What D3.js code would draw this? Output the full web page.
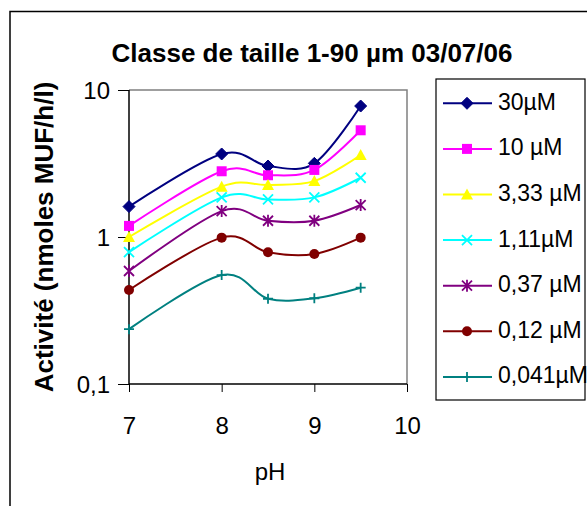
<!DOCTYPE html>
<html>
<head>
<meta charset="utf-8">
<script src="https://cdn.jsdelivr.net/npm/d3@7"></script>
<style>
html,body{margin:0;padding:0;background:#fff;}
svg{display:block;font-family:"Liberation Sans",Arial,sans-serif;}
</style>
</head>
<body>
<svg id="chart" width="587" height="506"></svg>
<script>
const titleText = "Classe de taille 1-90 µm 03/07/06";
const xLabel = "pH";
const yLabel = "Activité (nmoles MUF/h/l)";
const phValues = [7, 8, 8.5, 9, 9.5];
const xTicks = [7, 8, 9, 10];
const yTicks = [0.1, 1, 10];
const yTickLabels = ["0,1", "1", "10"];
const seriesNames = ["30µM", "10 µM", "3,33 µM", "1,11µM", "0,37 µM", "0,12 µM", "0,041µM"];
const s30 = [1.61, 3.67, 3.04, 3.17, 7.78];
const s10 = [1.19, 2.80, 2.63, 2.86, 5.32];
const s333 = [1.00, 2.20, 2.26, 2.40, 3.61];
const s111 = [0.79, 1.86, 1.80, 1.86, 2.53];
const s037 = [0.587, 1.50, 1.29, 1.29, 1.65];
const s012 = [0.436, 0.99, 0.787, 0.766, 0.99];
const s0041 = [0.236, 0.551, 0.380, 0.383, 0.452];
const seriesValues = [s30, s10, s333, s111, s037, s012, s0041];
const colors = ["#000080", "#FF00FF", "#FFFF00", "#00FFFF", "#800080", "#800000", "#008080"];
const markers = ["diamond", "square", "triangle", "x", "asterisk", "circle", "plus"];

const svg = d3.select("#chart");
const x = d3.scaleLinear().domain([7, 10]).range([129, 407]);
const y = d3.scaleLog().domain([0.1, 10]).range([384, 90]);

// outer frame
svg.append("path").attr("d", "M10,506 V11.5 H587").attr("fill", "none").attr("stroke", "#000").attr("stroke-width", 1.5);

// title
svg.append("text").attr("x", 312).attr("y", 62).attr("text-anchor", "middle")
  .attr("font-weight", "bold").attr("font-size", 26).text(titleText);

// plot border (top/right grey)
svg.append("path").attr("d", `M${x(7)},${y(10)} H${x(10)} V${y(0.1)}`)
  .attr("fill", "none").attr("stroke", "#808080").attr("stroke-width", 1.5);

// axes
const xAxis = d3.axisBottom(x).tickValues(xTicks).tickSize(8).tickFormat(d3.format("d"));
const gx = svg.append("g").attr("transform", `translate(0,${y(0.1)})`).call(xAxis);
gx.select(".domain").attr("stroke", "#000").attr("stroke-width", 1.5).attr("d", `M${x(7)},0H${x(10)}`);
gx.selectAll(".tick line").attr("stroke", "#000");
gx.selectAll(".tick text").attr("font-size", 24).attr("font-family", "Liberation Sans, Arial, sans-serif")
  .attr("fill", "#000").attr("y", 50).attr("dy", 0);

const yAxis = d3.axisLeft(y).tickValues(yTicks).tickSize(11).tickPadding(8)
  .tickFormat((d, i) => yTickLabels[i]);
const gy = svg.append("g").attr("transform", `translate(${x(7)},0)`).call(yAxis);
gy.select(".domain").attr("stroke", "#000").attr("stroke-width", 1.5).attr("d", `M0,${y(10)}V${y(0.1)}`);
gy.selectAll(".tick line").attr("stroke", "#000");
gy.selectAll(".tick text").attr("font-size", 24).attr("font-family", "Liberation Sans, Arial, sans-serif")
  .attr("fill", "#000").attr("dy", "0.36em");

// axis titles
svg.append("text").attr("x", 270).attr("y", 480).attr("text-anchor", "middle").attr("font-size", 24).text(xLabel);
svg.append("text").attr("transform", `translate(53,${(y(10) + y(0.1)) / 2})) rotate(-90)`)
  .attr("transform", `translate(53,${(y(10) + y(0.1)) / 2}) rotate(-90)`)
  .attr("text-anchor", "middle").attr("font-weight", "bold").attr("font-size", 26).text(yLabel);

// marker drawing
function drawMarker(g, type, color, cx, cy) {
  switch (type) {
    case "diamond":
      g.append("path").attr("d", `M${cx},${cy - 6}L${cx + 6},${cy}L${cx},${cy + 6}L${cx - 6},${cy}Z`).attr("fill", color).attr("stroke", color);
      break;
    case "square":
      g.append("rect").attr("x", cx - 5).attr("y", cy - 5).attr("width", 10).attr("height", 10).attr("fill", color);
      break;
    case "triangle":
      g.append("path").attr("d", `M${cx},${cy - 6}L${cx + 6},${cy + 5}L${cx - 6},${cy + 5}Z`).attr("fill", color);
      break;
    case "x":
      g.append("path").attr("d", `M${cx - 5},${cy - 5}L${cx + 5},${cy + 5}M${cx + 5},${cy - 5}L${cx - 5},${cy + 5}`).attr("stroke", color).attr("stroke-width", 1.8);
      break;
    case "asterisk":
      g.append("path").attr("d", `M${cx - 5},${cy - 5}L${cx + 5},${cy + 5}M${cx + 5},${cy - 5}L${cx - 5},${cy + 5}M${cx},${cy - 6}V${cy + 6}`).attr("stroke", color).attr("stroke-width", 1.8);
      break;
    case "circle":
      g.append("circle").attr("cx", cx).attr("cy", cy).attr("r", 5).attr("fill", color);
      break;
    case "plus":
      g.append("path").attr("d", `M${cx - 5},${cy}H${cx + 5}M${cx},${cy - 5}V${cy + 5}`).attr("stroke", color).attr("stroke-width", 1.8);
      break;
  }
}

const line = d3.line().x(d => x(d[0])).y(d => y(d[1])).curve(d3.curveCardinal.tension(0));
const plot = svg.append("g");
seriesValues.forEach((vals, i) => {
  const pts = phValues.map((p, j) => [p, vals[j]]);
  plot.append("path").attr("d", line(pts)).attr("fill", "none").attr("stroke", colors[i]).attr("stroke-width", 2);
});
seriesValues.forEach((vals, i) => {
  const g = plot.append("g");
  phValues.forEach((p, j) => drawMarker(g, markers[i], colors[i], x(p), y(vals[j])));
});

// legend
const lg = svg.append("g");
lg.append("rect").attr("x", 436).attr("y", 79).attr("width", 149).attr("height", 321)
  .attr("fill", "#fff").attr("stroke", "#000").attr("stroke-width", 1.2);
seriesNames.forEach((name, i) => {
  const cy = 103.3 + i * 45.6;
  lg.append("line").attr("x1", 443).attr("x2", 492).attr("y1", cy).attr("y2", cy).attr("stroke", colors[i]).attr("stroke-width", 2);
  drawMarker(lg, markers[i], colors[i], 467, cy);
  lg.append("text").attr("x", 498).attr("y", cy + 6.5).attr("font-size", 23).text(name);
});
</script>
</body>
</html>
